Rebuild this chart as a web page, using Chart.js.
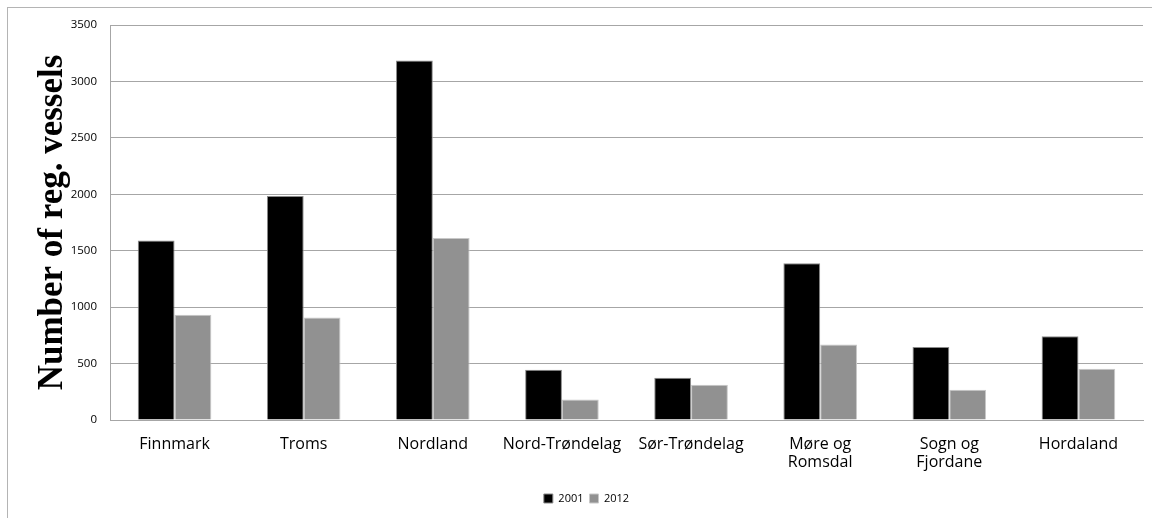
<!DOCTYPE html>
<html>
<head>
<meta charset="utf-8">
<script src="https://cdn.jsdelivr.net/npm/chart.js@4.4.1/dist/chart.umd.min.js"></script>
<style>
  html, body { margin: 0; padding: 0; background: #fff; }
  #frame { position: absolute; left: 7px; top: 7px; width: 1160px; height: 540px; border: 1px solid #b4b4b4; }
  #wrap { position: absolute; left: 0; top: 0; width: 1152px; height: 518px; }
</style>
</head>
<body>
<div id="frame"></div>
<div id="wrap"><canvas id="c" width="1152" height="518"></canvas></div>
<script>
// Registered fishing vessels per county
const counties = ['Finnmark', 'Troms', 'Nordland', 'Nord-Trøndelag', 'Sør-Trøndelag', ['Møre og', 'Romsdal'], ['Sogn og', 'Fjordane'], 'Hordaland'];
const vessels2001 = [1590, 1985, 3185, 445, 374, 1389, 646, 741];
const vessels2012 = [933, 909, 1612, 182, 312, 670, 268, 454];
const seriesNames = ['2001', '2012'];
const yTicks = [0, 500, 1000, 1500, 2000, 2500, 3000, 3500];

const sans = "'Open Sans', 'DejaVu Sans', sans-serif";
const leftPad = 30;

new Chart(document.getElementById('c'), {
  type: 'bar',
  data: {
    labels: counties,
    datasets: [
      { label: seriesNames[0], data: vessels2001, backgroundColor: '#000000', borderColor: '#8a8a8a', borderWidth: 1 },
      { label: seriesNames[1], data: vessels2012, backgroundColor: '#919191', borderColor: '#c8c8c8', borderWidth: 1 }
    ]
  },
  options: {
    responsive: false,
    animation: false,
    devicePixelRatio: 1,
    layout: { padding: { top: 25, right: 9, left: leftPad, bottom: 4 } },
    datasets: { bar: { categoryPercentage: 0.57, barPercentage: 1.0 } },
    plugins: {
      tooltip: { enabled: false },
      legend: {
        position: 'bottom',
        labels: {
          boxWidth: 9, boxHeight: 9, padding: 6,
          color: '#000',
          font: { family: sans, size: 11 }
        }
      }
    },
    scales: {
      x: {
        grid: { display: false, drawTicks: false },
        border: { color: '#a6a6a6', width: 1 },
        ticks: { color: '#000', font: { family: sans, size: 16, lineHeight: 1.1 }, padding: 16, maxRotation: 0, autoSkip: false },
        afterFit: (s) => { s.height = 67; }
      },
      y: {
        min: 0, max: 3500,
        afterBuildTicks: (s) => { s.ticks = yTicks.map(v => ({ value: v })); },
        grid: { color: '#a6a6a6', lineWidth: 1, drawTicks: false },
        border: { color: '#a6a6a6', width: 1 },
        ticks: { color: '#000', font: { family: sans, size: 11.5 }, padding: 13, callback: (v) => String(v) },
        title: {
          display: true,
          text: 'Number of reg. vessels',
          color: '#000',
          font: { family: "'Liberation Serif', 'DejaVu Serif', serif", size: 35, weight: 'bold', lineHeight: 1.2 },
          padding: { top: 2, bottom: 0 }
        },
        afterFit: (s) => { s.width = 110 - leftPad; }
      }
    }
  }
});
</script>
</body>
</html>
